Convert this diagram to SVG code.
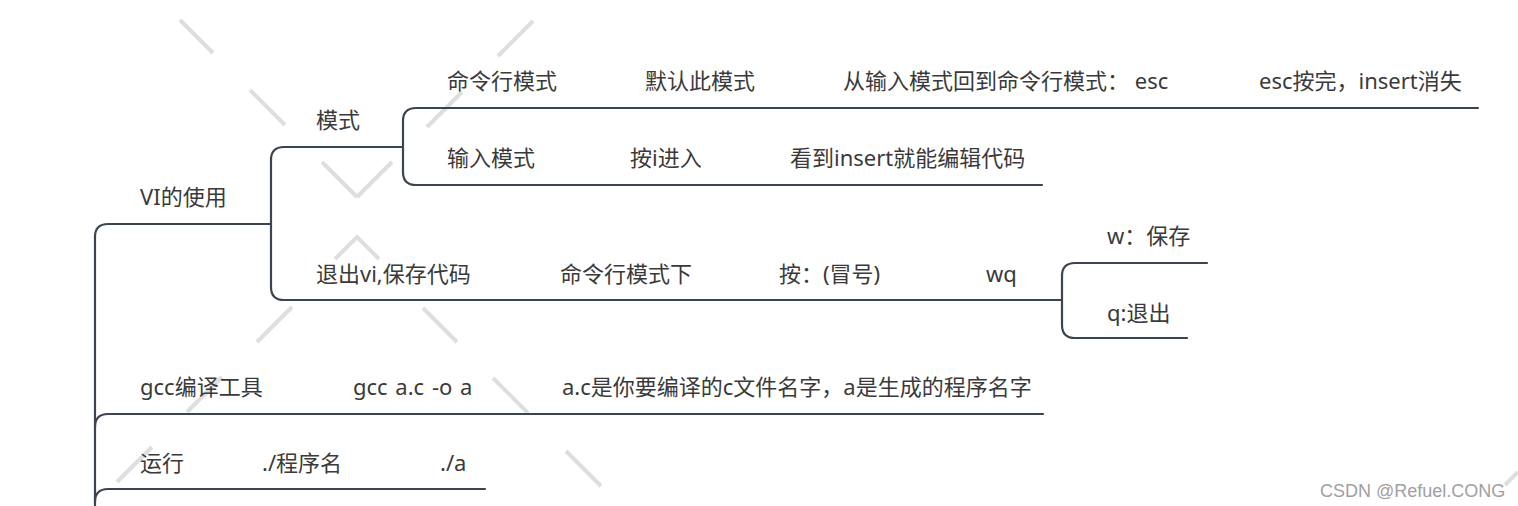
<svg xmlns="http://www.w3.org/2000/svg" width="1518" height="506" viewBox="0 0 1518 506">
<style>
  .bg { fill: #ffffff; }
  .wm { stroke: #dedede; stroke-width: 4; fill: none; }
  .conn { stroke: #3d4451; stroke-width: 2.2; fill: none; stroke-linecap: round; }
  .t { font-family: "Noto Sans", "Noto Sans CJK SC", sans-serif; font-size: 22px; fill: #3a3a3a; }
  .credit { font-family: "Liberation Sans", Arial, sans-serif; font-size: 18px; fill: #a0a0a0; }
</style>
<rect class="bg" x="0" y="0" width="1518" height="506"/>

<g id="watermark-lines" class="wm">
  <line x1="180" y1="20" x2="213" y2="53"/>
  <line x1="250" y1="90" x2="285" y2="125"/>
  <line x1="322" y1="162" x2="357" y2="197"/>
  <line x1="533" y1="21" x2="498" y2="56"/>
  <line x1="462" y1="92" x2="427" y2="127"/>
  <line x1="392" y1="162" x2="357" y2="197"/>
  <polyline points="335,259 357,237 379,259"/>
  <line x1="292" y1="307" x2="257" y2="342"/>
  <line x1="222" y1="377" x2="187" y2="412"/>
  <line x1="152" y1="447" x2="117" y2="482"/>
  <line x1="423" y1="308" x2="457" y2="342"/>
  <line x1="493" y1="378" x2="528" y2="413"/>
  <line x1="566" y1="451" x2="601" y2="486"/>
  <line x1="1518" y1="472" x2="1505" y2="485"/>
</g>

<g id="connectors" class="conn">
  <path d="M 95 506 V 237 Q 95 224 108 224 H 271"/>
  <path d="M 95 427 Q 95 414 108 414 H 1043"/>
  <path d="M 95 502 Q 95 489 108 489 H 485"/>
  <path d="M 284 147 Q 271 147 271 160 V 287 Q 271 300 284 300 H 1062"/>
  <path d="M 284 147 H 403"/>
  <path d="M 416 108 Q 403 108 403 121 V 172 Q 403 185 416 185 H 1042"/>
  <path d="M 416 108 H 1478"/>
  <path d="M 1075 263 Q 1062 263 1062 276 V 325 Q 1062 338 1075 338 H 1187"/>
  <path d="M 1075 263 H 1207"/>
</g>

<g id="node-vi"><text class="t" x="140" y="205">VI的使用</text></g>
<g id="node-mode"><text class="t" x="316" y="128">模式</text></g>
<g id="node-cmd-mode"><text class="t" x="447" y="89">命令行模式</text></g>
<g id="node-default"><text class="t" x="645" y="89">默认此模式</text></g>
<g id="node-back"><text class="t" x="843" y="89">从输入模式回到命令行模式： esc</text></g>
<g id="node-esc-done"><text class="t" x="1259" y="89">esc按完，insert消失</text></g>
<g id="node-input-mode"><text class="t" x="447" y="166">输入模式</text></g>
<g id="node-press-i"><text class="t" x="630" y="166">按i进入</text></g>
<g id="node-see-insert"><text class="t" x="790" y="166">看到insert就能编辑代码</text></g>
<g id="node-exit"><text class="t" x="316" y="282">退出vi,保存代码</text></g>
<g id="node-cmd-under"><text class="t" x="560" y="282">命令行模式下</text></g>
<g id="node-colon"><text class="t" x="779" y="282">按：(冒号)</text></g>
<g id="node-wq"><text class="t" x="986" y="282">wq</text></g>
<g id="node-w"><text class="t" x="1107" y="244">w：保存</text></g>
<g id="node-q"><text class="t" x="1107" y="321">q:退出</text></g>
<g id="node-gcc"><text class="t" x="140" y="395">gcc编译工具</text></g>
<g id="node-gcc-cmd"><text class="t" x="353" y="395" word-spacing="2">gcc a.c -o a</text></g>
<g id="node-gcc-desc"><text class="t" x="562" y="395">a.c是你要编译的c文件名字，a是生成的程序名字</text></g>
<g id="node-run"><text class="t" x="140" y="471">运行</text></g>
<g id="node-run-name"><text class="t" x="262" y="471">./程序名</text></g>
<g id="node-run-a"><text class="t" x="440" y="471">./a</text></g>

<text class="credit" x="1320" y="497">CSDN @Refuel.CONG</text>
</svg>
